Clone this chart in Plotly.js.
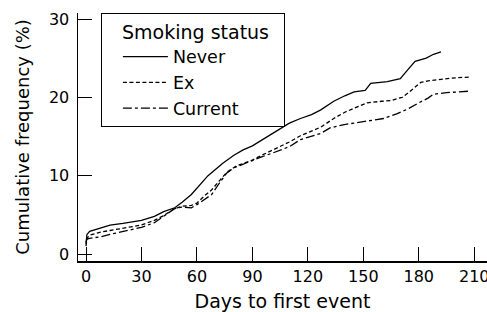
<!DOCTYPE html>
<html>
<head>
<meta charset="utf-8">
<script src="https://cdn.plot.ly/plotly-3.0.1.min.js"></script>
<style>html,body{margin:0;padding:0;background:#fff;}#chart{width:487px;height:312px;}</style>
</head>
<body>
<div id="chart"></div>
<script>
// Days to first event (x) and cumulative frequency % (y)
var neverDays = [0, 0.5, 2, 8, 13, 20, 30, 37, 42, 48, 52, 57, 62, 66, 70, 74, 80, 85, 90, 98, 105, 110, 116, 122, 127, 134, 140, 145, 151, 154, 163, 170, 174, 178, 184, 188, 192];
var neverPct  = [1.3, 2.5, 2.9, 3.3, 3.7, 3.9, 4.3, 4.8, 5.4, 5.9, 6.6, 7.6, 9.0, 10.0, 10.8, 11.6, 12.6, 13.3, 13.8, 15.0, 16.0, 16.7, 17.3, 17.8, 18.4, 19.5, 20.2, 20.7, 20.9, 21.8, 22.0, 22.4, 23.5, 24.6, 25.0, 25.5, 25.8];

var exDays = [0, 0.5, 2, 8, 13, 20, 30, 37, 42, 48, 52, 57, 60, 64, 68, 72, 76, 81, 86, 90, 95, 101, 106, 110, 116, 122, 127, 134, 140, 145, 152, 160, 165, 171, 175, 181, 185, 192, 200, 208];
var exPct  = [1.0, 2.0, 2.4, 2.8, 3.0, 3.3, 3.7, 4.3, 4.9, 5.8, 6.1, 6.2, 6.5, 7.4, 8.2, 9.3, 10.4, 11.2, 11.6, 12.0, 12.6, 13.3, 13.8, 14.3, 15.1, 15.7, 16.2, 17.3, 18.1, 18.6, 19.3, 19.5, 19.6, 20.0, 20.7, 21.9, 22.1, 22.3, 22.5, 22.6];

var currentDays = [0, 0.5, 2, 8, 13, 20, 30, 37, 42, 48, 52, 57, 60, 64, 68, 72, 76, 80, 85, 90, 95, 101, 106, 110, 116, 122, 127, 132, 139, 150, 161, 168, 174, 180, 185, 188, 195, 208];
var currentPct  = [1.5, 1.9, 2.0, 2.2, 2.5, 2.9, 3.4, 4.0, 4.8, 5.8, 6.0, 5.9, 6.3, 6.9, 7.6, 9.0, 10.3, 11.0, 11.5, 11.9, 12.4, 12.9, 13.3, 13.7, 14.6, 15.0, 15.4, 16.1, 16.5, 16.9, 17.3, 17.9, 18.5, 19.3, 19.9, 20.4, 20.6, 20.8];

var seriesNames = ["Never", "Ex", "Current"];
var legendTitle = "Smoking status";
var xTicks = [0, 30, 60, 90, 120, 150, 180, 210];
var yTicks = [0, 10, 20, 30];

var FONT = "DejaVu Sans, sans-serif";
var traces = [
  {x: neverDays, y: neverPct, name: seriesNames[0], mode: "lines", line: {color: "#000", width: 1.3, dash: "solid"}},
  {x: exDays, y: exPct, name: seriesNames[1], mode: "lines", line: {color: "#000", width: 1.3, dash: "4px,2.5px"}},
  {x: currentDays, y: currentPct, name: seriesNames[2], mode: "lines", line: {color: "#000", width: 1.3, dash: "9px,3px,3px,3px"}}
];

var layout = {
  width: 487, height: 312,
  margin: {l: 78, r: 0, t: 13, b: 51, pad: 0},
  paper_bgcolor: "#fff", plot_bgcolor: "#fff",
  font: {family: FONT, color: "#000", size: 16},
  showlegend: true,
  legend: {
    x: 0.056, y: 1, xanchor: "left", yanchor: "top",
    bordercolor: "#000", borderwidth: 1, bgcolor: "#fff",
    font: {family: FONT, size: 17.5, color: "#000"},
    title: {text: "&nbsp;&nbsp;&nbsp;" + legendTitle + "&nbsp;&nbsp;", font: {family: FONT, size: 19, color: "#000"}},
    itemwidth: 45, tracegroupgap: 0, indentation: 16
  },
  xaxis: {
    range: [-4.33, 216.9], tickvals: xTicks, ticktext: xTicks.map(String),
    ticks: "inside", ticklen: 14, tickwidth: 1, tickcolor: "#000",
    showline: true, linecolor: "#000", linewidth: 1.5,
    showgrid: false, zeroline: false, ticklabeloverflow: "allow",
    tickfont: {family: FONT, size: 16, color: "#000"},
    title: {text: "Days to first event", font: {family: FONT, size: 19, color: "#000"}, standoff: 12}
  },
  yaxis: {
    range: [-0.894, 30.77], tickvals: yTicks, ticktext: yTicks.map(String),
    ticks: "inside", ticklen: 14, tickwidth: 1, tickcolor: "#000",
    showline: true, linecolor: "#000", linewidth: 1.5,
    showgrid: false, zeroline: false, ticklabelstandoff: 4, ticklabeloverflow: "allow",
    tickfont: {family: FONT, size: 16, color: "#000"},
    title: {text: "Cumulative frequency (%)", font: {family: FONT, size: 18, color: "#000"}, standoff: 14}
  }
};

Plotly.newPlot("chart", traces, layout, {displayModeBar: false, staticPlot: true});
</script>
</body>
</html>
